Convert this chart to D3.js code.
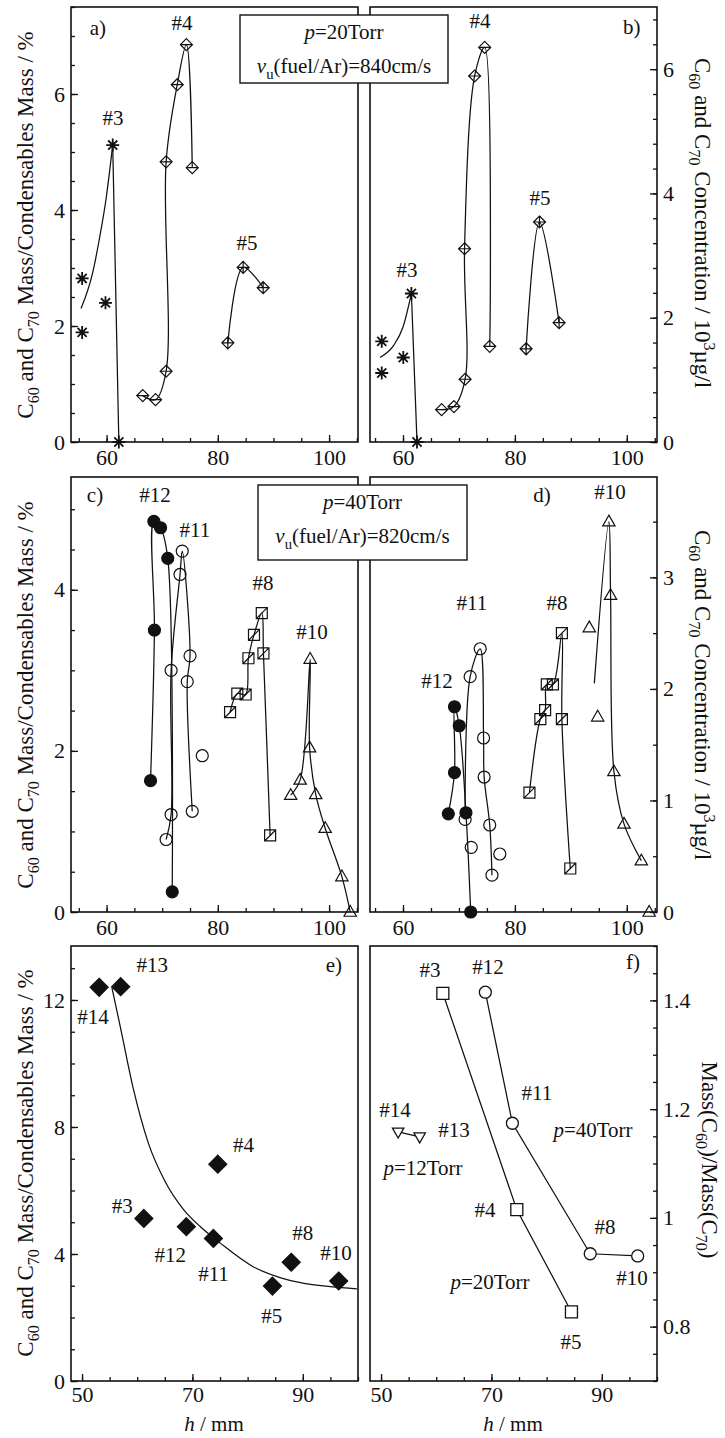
<!DOCTYPE html>
<html>
<head>
<meta charset="utf-8">
<script src="https://cdn.jsdelivr.net/npm/d3@7"></script>
<style>
  body { margin: 0; background: #fff; }
</style>
</head>
<body>
<script>
// ---- tick labels ----
const hTicks = [60, 80, 100];
const hTicksBottom = [50, 70, 90];
const aTicks = [0, 2, 4, 6];
const bTicks = [0, 2, 4, 6];
const cTicks = [0, 2, 4];
const dTicks = [0, 1, 2, 3];
const eTicks = [0, 4, 8, 12];
const fTicks = [0.8, 1, 1.2, 1.4];

// ---- a) mass fraction, p=20Torr  [h mm, %] ----
const a3 = [[55.6, 2.82], [55.6, 1.89], [59.8, 2.40], [61.1, 5.12], [62.2, 0]];
const a3Fit = [[55.4, 2.30], [57.5, 2.92], [58.7, 3.50], [59.9, 4.19], [61.1, 5.12]];
const a4 = [[66.5, 0.80], [68.8, 0.73], [70.7, 1.22], [70.7, 4.83], [72.7, 6.16], [74.35, 6.85], [75.4, 4.73]];
const a5 = [[81.8, 1.71], [84.55, 3.01], [88.15, 2.66]];

// ---- b) concentration, p=20Torr  [h mm, 10^3 ug/l] ----
const b3 = [[56.2, 1.62], [56.2, 1.11], [60.05, 1.36], [61.5, 2.39], [62.5, 0]];
const b3Fit = [[55.9, 1.36], [58.3, 1.55], [60.0, 1.85], [61.5, 2.39]];
const b4 = [[66.9, 0.52], [69.1, 0.57], [71.1, 1.01], [71.0, 3.11], [72.8, 5.89], [74.6, 6.35], [75.5, 1.54]];
const b5 = [[82.0, 1.50], [84.4, 3.54], [87.9, 1.92]];

// ---- c) mass fraction, p=40Torr ----
const c12 = [[67.9, 1.63], [68.6, 3.50], [68.5, 4.85], [69.7, 4.77], [71.0, 4.39], [71.8, 0.25]];
const c11 = [[70.7, 0.90], [71.6, 1.21], [71.6, 3.00], [73.2, 4.19], [73.6, 4.48], [75.0, 3.18], [74.5, 2.86], [75.4, 1.25], [77.2, 1.94]];
const c8 = [[82.2, 2.48], [83.5, 2.71], [85.0, 2.70], [85.5, 3.15], [86.5, 3.44], [87.9, 3.71], [88.2, 3.21], [89.4, 0.95]];
const c10 = [[93.1, 1.45], [94.8, 1.64], [96.6, 3.14], [96.5, 2.04], [97.6, 1.46], [99.3, 1.04], [102.3, 0.44], [103.8, 0]];

// ---- d) concentration, p=40Torr ----
const d12 = [[68.1, 0.88], [69.2, 1.25], [69.2, 1.84], [70.05, 1.67], [71.25, 0.89], [72.1, 0]];
const d11 = [[71.1, 0.83], [72.0, 2.11], [73.8, 2.36], [74.4, 1.56], [74.5, 1.21], [75.5, 0.78], [75.9, 0.33], [72.2, 0.58], [77.3, 0.52]];
const d8 = [[82.6, 1.07], [84.55, 1.73], [85.4, 1.81], [85.7, 2.04], [86.8, 2.04], [88.4, 2.50], [88.4, 1.73], [89.9, 0.39]];
const d10 = [[93.3, 2.55], [94.8, 1.75], [96.8, 3.50], [97.1, 2.84], [97.7, 1.26], [99.5, 0.79], [102.6, 0.46], [104.0, 0]];
const d10Start = [94.2, 2.05];

// ---- e) / f) one value per run ----
const runs = ["#14", "#13", "#3", "#12", "#11", "#4", "#5", "#8", "#10"];
const runH = [53.1, 57.0, 61.2, 68.9, 73.8, 74.6, 84.5, 87.9, 96.5];
const runPressure = [12, 12, 20, 40, 40, 20, 20, 40, 40];
const runMassPct = [12.40, 12.42, 5.12, 4.86, 4.49, 6.83, 2.99, 3.74, 3.15];
const runRatio = [1.158, 1.149, 1.413, 1.415, 1.174, 1.015, 0.827, 0.934, 0.930];
const eFit = [[55.4, 12.4], [57, 11.1], [59.3, 9.2], [62, 7.5], [65, 6.3], [68.4, 5.4], [71.5, 4.85],
  [75, 4.35], [81, 3.6], [86, 3.25], [90, 3.08], [95, 2.97], [99.8, 2.9]];

// ---- annotations [text, h, value] ----
const aNotes = [["a)", 58.45, 7.02], ["#3", 61.15, 5.47], ["#4", 73.56, 7.10], ["#5", 85.24, 3.31]];
const bNotes = [["b)", 100.9, 6.57], ["#4", 73.76, 6.66], ["#5", 84.48, 3.81], ["#3", 60.71, 2.66]];
const cNotes = [["c)", 57.92, 5.09], ["#12", 68.7, 5.09], ["#11", 75.89, 4.66], ["#8", 88.12, 4.0], ["#10", 96.93, 3.39]];
const dNotes = [["d)", 84.84, 3.68], ["#10", 96.99, 3.70], ["#11", 72.33, 2.71], ["#8", 87.52, 2.71], ["#12", 66.07, 2.01]];
const eNotes = [["e)", 95.64, 12.88], ["#13", 62.73, 12.88], ["#14", 52.0, 11.24], ["#4", 79.27, 7.21], ["#3", 57.27, 5.29],
  ["#12", 66.0, 3.75], ["#11", 73.82, 3.15], ["#5", 84.36, 1.83], ["#8", 90.0, 4.44], ["#10", 96.0, 3.81]];
const fNotes = [["f)", 95.64, 1.458], ["#3", 58.87, 1.443], ["#12", 69.38, 1.449], ["#14", 52.53, 1.186], ["#13", 63.22, 1.149],
  ["*p*=12Torr", 57.6, 1.079], ["#11", 78.25, 1.217], ["*p*=40Torr", 88.4, 1.149], ["#4", 68.83, 1.002],
  ["#8", 90.57, 0.970], ["#10", 95.46, 0.877], ["*p*=20Torr", 69.74, 0.869], ["#5", 84.41, 0.759]];

const boxes = [
  { x: 240, y: 15, w: 208, h: 68, lines: ["*p*=20Torr", "*v*_{u}(fuel/Ar)=840cm/s"], base: [39, 73] },
  { x: 258, y: 485, w: 209, h: 75, lines: ["*p*=40Torr", "*v*_{u}(fuel/Ar)=820cm/s"], base: [509, 543] },
];

const massTitle = "C_{60} and C_{70} Mass/Condensables Mass / %";
const concTitle = "C_{60} and C_{70} Concentration / 10^{3}µg/l";
const ratioTitle = "Mass(C_{60})/Mass(C_{70})";

// ---- layout ----
const serif = '"Liberation Serif", "Times New Roman", serif';
const ink = "#111";
const colL = [71, 358], colR = [370, 657];
const rowY = [[7, 442], [477, 912], [946, 1381]];

const svg = d3.select("body").append("svg")
  .attr("width", 725).attr("height", 1438)
  .attr("font-family", serif)
  .attr("fill", ink);

const sym = {
  star: r => { const k = r * 0.7; return `M${-r},0H${r}M0,${-r}V${r}M${-k},${-k}L${k},${k}M${-k},${k}L${k},${-k}`; },
  diamond: r => `M0,${-r}L${r},0L0,${r}L${-r},0Z`,
  diamondBar: r => `M0,${-r}L${r},0L0,${r}L${-r},0ZM${-r},0H${r}`,
  diamondCross: r => `M0,${-r}L${r},0L0,${r}L${-r},0ZM${-r},0H${r}M0,${-r}V${r}`,
  circle: r => `M${r},0A${r},${r},0,1,1,${-r},0A${r},${r},0,1,1,${r},0Z`,
  square: r => `M${-r},${-r}H${r}V${r}H${-r}Z`,
  squareSlash: r => `M${-r},${-r}H${r}V${r}H${-r}ZM${-r},${r}L${r},${-r}`,
  triangle: r => `M0,${-r}L${r * 0.95},${r * 0.65}H${-r * 0.95}Z`,
  triangleDown: r => `M0,${r}L${r * 0.95},${-r * 0.65}H${-r * 0.95}Z`,
};

// tiny markup: _{sub} ^{sup} *italic*
function rich(text, str, fs) {
  let shift = 0;
  str.split(/(_\{[^}]*\}|\^\{[^}]*\}|\*[^*]*\*)/g).filter(s => s).forEach(tok => {
    let t = tok, dy = 0, size = fs, italic = false;
    if (tok.startsWith("_{")) { t = tok.slice(2, -1); dy = fs * 0.28; size = fs * 0.7; }
    else if (tok.startsWith("^{")) { t = tok.slice(2, -1); dy = -fs * 0.4; size = fs * 0.7; }
    else if (tok.startsWith("*")) { t = tok.slice(1, -1); italic = true; }
    const sp = text.append("tspan").text(t).attr("font-size", size).attr("dy", dy - shift);
    if (italic) sp.attr("font-style", "italic");
    shift = dy;
  });
  return text;
}

const pairs = (hs, vs) => hs.map((h, i) => [h, vs[i]]);
const byPressure = (vals, p) => runH.map((h, i) => [h, vals[i], runPressure[i]])
  .filter(d => d[2] === p).sort((a, b) => a[0] - b[0]);

const panels = [
  { row: 0, right: false, xDom: [53.6, 105.2], yDom: [0, 7.5], xMajor: hTicks, xMinor: d3.range(55, 106, 5),
    yMajor: aTicks, yMinor: d3.range(0, 7.51, 0.5),
    lines: [{ pts: a3Fit, curve: d3.curveMonotoneX }, { pts: a3.slice(3), curve: d3.curveLinear }, { pts: a4 }, { pts: a5 }],
    marks: [{ pts: a3, sym: "star", r: 6.5, sw: 1.8 }, { pts: a4, sym: "diamondBar" }, { pts: a5, sym: "diamondCross" }],
    notes: aNotes },
  { row: 0, right: true, xDom: [54.1, 105.4], yDom: [0, 7], xMajor: hTicks, xMinor: d3.range(55, 106, 5),
    yMajor: bTicks, yMinor: d3.range(0, 7.01, 0.4),
    lines: [{ pts: b3Fit, curve: d3.curveMonotoneX }, { pts: b3.slice(3), curve: d3.curveLinear }, { pts: b4 }, { pts: b5 }],
    marks: [{ pts: b3, sym: "star", r: 6.5, sw: 1.8 }, { pts: b4, sym: "diamondBar" }, { pts: b5, sym: "diamondCross" }],
    notes: bNotes },
  { row: 1, right: false, xDom: [53.6, 105.2], yDom: [0, 5.4], xMajor: hTicks, xMinor: d3.range(55, 106, 5),
    yMajor: cTicks, yMinor: d3.range(0, 5.41, 0.5),
    lines: [{ pts: c12 }, { pts: c11.slice(0, 8) }, { pts: c8 }, { pts: c10 }],
    marks: [{ pts: c12, sym: "circle", fill: ink }, { pts: c11, sym: "circle" }, { pts: c8, sym: "squareSlash", r: 5.5 },
      { pts: c10, sym: "triangle", r: 6.5 }],
    notes: cNotes },
  { row: 1, right: true, xDom: [54.1, 105.4], yDom: [0, 3.9], xMajor: hTicks, xMinor: d3.range(55, 106, 5),
    yMajor: dTicks, yMinor: d3.range(0, 3.91, 0.5),
    lines: [{ pts: d12 }, { pts: d11.slice(0, 7) }, { pts: d8 }, { pts: [d10Start, ...d10.slice(2, 7)] }],
    marks: [{ pts: d12, sym: "circle", fill: ink }, { pts: d11, sym: "circle" }, { pts: d8, sym: "squareSlash", r: 5.5 },
      { pts: d10, sym: "triangle", r: 6.5 }],
    notes: dNotes },
  { row: 2, right: false, xDom: [48, 100], yDom: [0, 13.7], xMajor: hTicksBottom, xMinor: d3.range(50, 101, 5),
    yMajor: eTicks, yMinor: d3.range(0, 13.71, 1), xPad: 5,
    lines: [{ pts: eFit, curve: d3.curveMonotoneX }],
    marks: [{ pts: pairs(runH, runMassPct), sym: "diamond", r: 9, fill: ink }],
    notes: eNotes },
  { row: 2, right: true, xDom: [48, 100], yDom: [0.7, 1.5], xMajor: hTicksBottom, xMinor: d3.range(50, 101, 5),
    yMajor: fTicks, yMinor: d3.range(0.7, 1.51, 0.05), yFmt: d => String(d), xPad: 5,
    lines: [20, 40, 12].map(p => ({ pts: byPressure(runRatio, p), curve: d3.curveLinear })),
    marks: [
      { pts: byPressure(runRatio, 20), sym: "square", r: 6, fill: "#fff", sw: 1.3 },
      { pts: byPressure(runRatio, 40), sym: "circle", r: 6, fill: "#fff", sw: 1.3 },
      { pts: byPressure(runRatio, 12), sym: "triangleDown", r: 6, fill: "#fff", sw: 1.3 }],
    notes: fNotes },
];

function drawPanel(p) {
  const col = p.right ? colR : colL;
  const [top, bottom] = rowY[p.row];
  const x = d3.scaleLinear().domain(p.xDom).range(col);
  const y = d3.scaleLinear().domain(p.yDom).range([bottom, top]);
  const g = svg.append("g");

  g.append("rect")
    .attr("x", col[0]).attr("y", top)
    .attr("width", col[1] - col[0]).attr("height", bottom - top)
    .attr("fill", "none").attr("stroke", ink).attr("stroke-width", 1.6);

  // x axis, ticks pointing in
  const gx = g.append("g").attr("transform", `translate(0,${bottom})`);
  gx.append("g").call(d3.axisBottom(x).tickValues(p.xMinor).tickSize(-4).tickFormat(""));
  gx.append("g").call(d3.axisBottom(x).tickValues(p.xMajor).tickSize(-7).tickPadding(p.xPad || 7));

  // y axis on the outer side
  const axisY = p.right ? d3.axisRight : d3.axisLeft;
  const gy = g.append("g").attr("transform", `translate(${p.right ? col[1] : col[0]},0)`);
  gy.append("g").call(axisY(y).tickValues(p.yMinor).tickSize(-4).tickFormat(""));
  gy.append("g").call(axisY(y).tickValues(p.yMajor).tickSize(-7).tickPadding(6).tickFormat(p.yFmt || (d => d)));

  g.selectAll(".domain").remove();
  g.selectAll(".tick line").attr("stroke", ink).attr("stroke-width", 1.3);
  g.selectAll(".tick text").attr("fill", ink).attr("font-size", 22).attr("font-family", serif);

  const line = curve => d3.line().x(d => x(d[0])).y(d => y(d[1])).curve(curve || d3.curveCatmullRom);
  p.lines.forEach(l => {
    g.append("path").attr("d", line(l.curve)(l.pts))
      .attr("fill", "none").attr("stroke", ink).attr("stroke-width", 1.25);
  });

  p.marks.forEach(m => {
    g.append("g").selectAll("path").data(m.pts).join("path")
      .attr("transform", d => `translate(${x(d[0])},${y(d[1])})`)
      .attr("d", sym[m.sym](m.r || 6))
      .attr("fill", m.fill || "none")
      .attr("stroke", ink).attr("stroke-width", m.sw || 1.2);
  });

  p.notes.forEach(([t, h, v]) => {
    rich(g.append("text").attr("x", x(h)).attr("y", y(v)).attr("text-anchor", "middle"), t, 21);
  });
}

panels.forEach(drawPanel);

// condition boxes spanning both panels
boxes.forEach(b => {
  svg.append("rect").attr("x", b.x).attr("y", b.y).attr("width", b.w).attr("height", b.h)
    .attr("fill", "#fff").attr("stroke", ink).attr("stroke-width", 1.4);
  b.lines.forEach((t, i) => {
    rich(svg.append("text").attr("x", b.x + b.w / 2).attr("y", b.base[i]).attr("text-anchor", "middle"), t, 21);
  });
});

// axis titles
function title(str, x, y, rot, fs) {
  rich(svg.append("text").attr("text-anchor", "middle")
    .attr("transform", `translate(${x},${y}) rotate(${rot})`), str, fs);
}
title(massTitle, 33, 225, -90, 23);
title(massTitle, 33, 695, -90, 23);
title(massTitle, 33, 1163, -90, 23);
title(concTitle, 695, 223, 90, 23);
title(concTitle, 695, 695, 90, 23);
title(ratioTitle, 702, 1160, 90, 23);
title("*h* / mm", 214, 1431, 0, 21);
title("*h* / mm", 513, 1431, 0, 21);
</script>
</body>
</html>
